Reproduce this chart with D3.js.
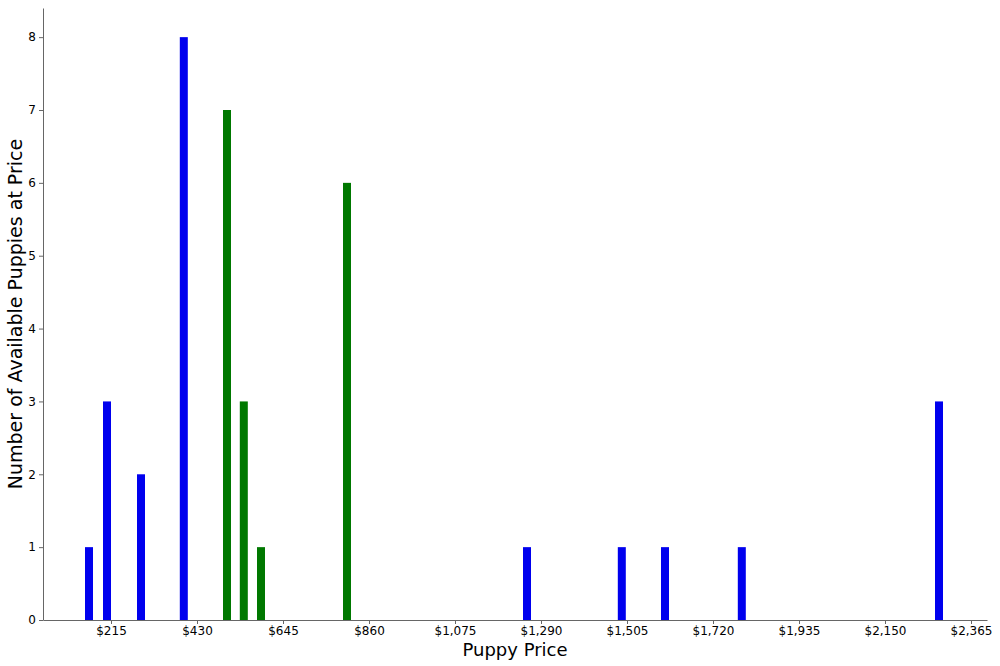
<!DOCTYPE html>
<html><head><meta charset="utf-8">
<script src="https://cdn.jsdelivr.net/npm/d3@7"></script>
<style>body{margin:0;background:#fff}text{font-family:"DejaVu Sans",sans-serif}</style>
</head><body><svg id="c" width="1000" height="666"></svg>
<script>
var prices = [160, 205, 290, 397, 505, 547, 590, 805, 1255, 1492, 1600, 1792, 2285];
var counts = [1, 3, 2, 8, 7, 3, 1, 6, 1, 1, 1, 1, 3];
var colors = ["#0000ee", "#0000ee", "#0000ee", "#0000ee", "#007800", "#007800", "#007800", "#007800",
              "#0000ee", "#0000ee", "#0000ee", "#0000ee", "#0000ee"];
var xTicks = [215, 430, 645, 860, 1075, 1290, 1505, 1720, 1935, 2150, 2365];
var yTicks = [0, 1, 2, 3, 4, 5, 6, 7, 8];

var svg = d3.select("#c");
var m = {l: 43, r: 987, t: 8, b: 620};
var x = d3.scaleLinear().domain([45, 2405]).range([m.l, m.r]);
var y = d3.scaleLinear().domain([0, 8.4]).range([m.b, m.t]);
var bw = x(20) - x(0);

svg.selectAll("rect").data(prices).enter().append("rect")
    .attr("x", function(d) { return x(d) - bw / 2; })
    .attr("y", function(d, i) { return y(counts[i]); })
    .attr("width", bw)
    .attr("height", function(d, i) { return y(0) - y(counts[i]); })
    .attr("fill", function(d, i) { return colors[i]; });

var fmt = function(d) { return "$" + d3.format(",")(d); };
var gx = svg.append("g").attr("transform", "translate(0," + m.b + ")")
    .call(d3.axisBottom(x).tickValues(xTicks).tickFormat(fmt).tickSize(4).tickPadding(2).tickSizeOuter(0));
var gy = svg.append("g").attr("transform", "translate(" + m.l + ",0)")
    .call(d3.axisLeft(y).tickValues(yTicks).tickSize(4).tickSizeOuter(0));
[gx, gy].forEach(function(g) {
    g.selectAll("path,line").attr("stroke", "#666");
    g.selectAll("text").attr("font-size", 12).attr("fill", "#000");
});

svg.append("text").attr("x", 515).attr("y", 656).attr("text-anchor", "middle")
    .attr("font-size", 18).text("Puppy Price");
svg.append("text").attr("transform", "translate(22,314) rotate(-90)")
    .attr("text-anchor", "middle").attr("font-size", 19).text("Number of Available Puppies at Price");
</script></body></html>
